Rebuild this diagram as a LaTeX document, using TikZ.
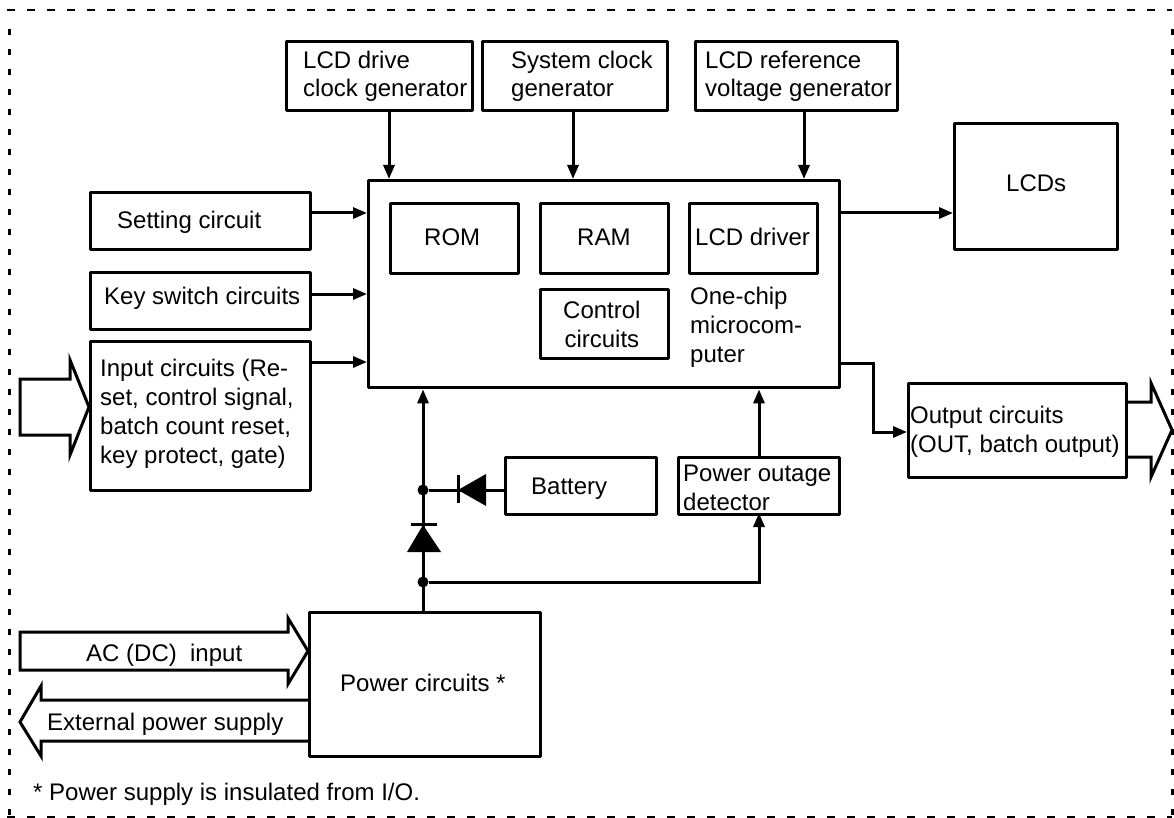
\documentclass[tikz,border=0pt]{standalone}
\usepackage{fontspec}
\setmainfont{Liberation Sans}
\usetikzlibrary{arrows.meta}
\tikzset{
  x=1pt,y=-1pt,
  wire/.style={line width=3pt,line join=miter},
  arr/.style={wire,-{Triangle[length=14pt,width=11pt]}},
  blockarrow/.style={line width=3pt,line join=miter,fill=white},
  bx/.style={draw,line width=3.4pt,line join=round,inner sep=0pt,anchor=north west},
  lab/.style={inner sep=0pt,anchor=base west,font=\fontsize{24}{28.7}\selectfont,align=left},
  dot/.style={circle,fill=black,inner sep=0pt,minimum size=11pt},
  hdash/.style={line width=2.8pt,dash pattern=on 8pt off 12pt},
  vdash/.style={line width=3pt,dash pattern=on 6pt off 14pt},
}
\newcommand{\boxn}[5]{\node[bx,minimum width=#4 pt-#2 pt,minimum height=#5 pt-#3 pt] (#1) at (#2,#3) {};}
\begin{document}
\begin{tikzpicture}
\useasboundingbox (0,0) rectangle (1174,818);
\fill[white] (0,0) rectangle (1174,818);
\coordinate (bTL) at (7,10);
\coordinate (bTR) at (1172,10);
\coordinate (bBL) at (7,817);
\coordinate (bBR) at (1172,817);
\draw[hdash] (bTL) -- (bTR);
\draw[hdash] (bBL) -- (bBR);
\draw[vdash] (9,29) -- (9,817);
\draw[vdash] (1172,29) -- (1172,817);
% block arrows
\draw[blockarrow] (20,379) -- (70,379) -- (70,360) -- (89,407) -- (70,455) -- (70,435) -- (20,435) -- cycle;
\draw[blockarrow] (20,632) -- (288,632) -- (288,618) -- (308,651) -- (288,684) -- (288,670) -- (20,670) -- cycle;
\draw[blockarrow] (308,700) -- (41,700) -- (41,686) -- (20,722) -- (41,756) -- (41,741) -- (308,741);
\draw[blockarrow] (1125,402) -- (1151,402) -- (1151,383) -- (1172,430) -- (1151,477) -- (1151,457) -- (1125,457);
% boxes
\boxn{lcdclk}{285}{40}{471}{109}
\boxn{sysclk}{481}{40}{666}{109}
\boxn{lcdref}{694}{40}{896}{109}
\boxn{main}{367}{179}{838}{386}
\boxn{rom}{389}{202}{517}{272}
\boxn{ram}{539}{202}{667}{272}
\boxn{drv}{688}{202}{816}{272}
\boxn{ctrl}{539}{288}{667}{357}
\boxn{lcds}{953}{122}{1116}{248}
\boxn{setting}{89}{191}{309}{248}
\boxn{key}{89}{271}{309}{328}
\boxn{input}{89}{340}{309}{489}
\boxn{output}{907}{382}{1125}{476}
\boxn{batt}{504}{456}{655}{513}
\boxn{outage}{677}{456}{838}{513}
\boxn{power}{308}{611}{539}{755}
% texts
\node[lab] (tclk) at (303,97) {LCD drive\\clock generator};
\node[lab] (tsys) at (511,97) {System clock\\generator};
\node[lab] (tref) at (705,97) {LCD reference\\voltage generator};
\node[lab] (trom) at (424,245) {ROM};
\node[lab] (tram) at (577,245) {RAM};
\node[lab] (tdrv) at (695,245) {LCD driver};
\node[lab,align=center] (tctl) at (563,347) {Control\\circuits};
\node[lab] (tchip) at (690,362) {One-chip\\microcom-\\puter};
\node[lab] (tlcd) at (1006,192) {LCDs};
\node[lab] (tset) at (117,229) {Setting circuit};
\node[lab] (tkey) at (104,304) {Key switch circuits};
\node[lab] (tin) at (100,463) {Input circuits (Re-\\set, control signal,\\batch count reset,\\key protect, gate)};
\node[lab] (tout) at (910,452) {Output circuits\\(OUT, batch output)};
\node[lab] (tbat) at (531,494) {Battery};
\node[lab] (tod) at (683,510) {Power outage\\detector};
\node[lab] (tpow) at (340,691) {Power circuits *};
\node[lab] (tac) at (86,661) {AC (DC)\ \ input};
\node[lab] (text) at (47,730) {External power supply};
\node[lab] (note) at (33,800) {* Power supply is insulated from I/O.};
% junctions
\node[dot] (j1) at (423,490) {};
\node[dot] (j2) at (423,582) {};
% connectors
\coordinate (a1) at (389,109);
\draw[arr] (a1) -- (a1 |- main.north);
\coordinate (a2) at (573,109);
\draw[arr] (a2) -- (a2 |- main.north);
\coordinate (a3) at (804,109);
\draw[arr] (a3) -- (a3 |- main.north);
\coordinate (s1) at (309,213);
\draw[arr] (s1) -- (s1 -| main.west);
\coordinate (k1) at (309,294);
\draw[arr] (k1) -- (k1 -| main.west);
\coordinate (i1) at (309,362);
\draw[arr] (i1) -- (i1 -| main.west);
\coordinate (m1) at (838,213);
\draw[arr] (m1) -- (m1 -| lcds.west);
\coordinate (m2) at (838,363);
\coordinate (o1) at (907,432);
\draw[arr] (m2) -- (873,363) -- (873,432) -- (o1);
\coordinate (p1) at (423,611);
\draw[arr] (p1) -- (p1 |- main.south);
\draw[wire] (j1) -- (j1 -| batt.west);
\coordinate (od) at (759,513);
\draw[arr] (j2) -- (j2 -| od) -- (od);
\coordinate (ou) at (759,456);
\draw[arr] (ou) -- (ou |- main.south);
% diodes
\fill (423,525) -- (441,552) -- (407,552) -- cycle;
\draw[wire] (411,524) -- (437,524);
\fill (458,490) -- (486,474) -- (486,506) -- cycle;
\draw[wire] (458,475) -- (458,503);
\end{tikzpicture}
\end{document}
